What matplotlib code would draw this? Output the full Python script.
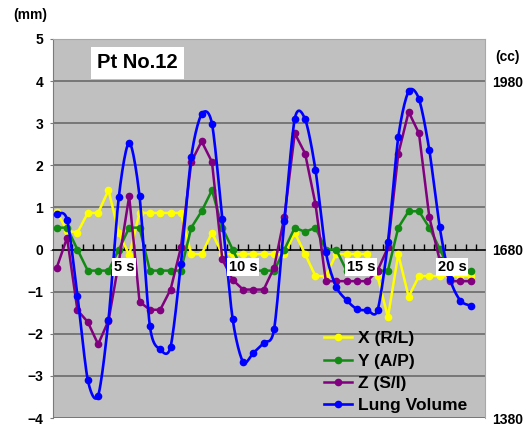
import numpy as np
import matplotlib
matplotlib.use("Agg")
import matplotlib.pyplot as plt
from matplotlib.lines import Line2D

plt.rcParams["font.family"] = ["Liberation Sans", "DejaVu Sans"]

# ── data (frame index, mm displacement, lung volume in cc) ────────────────────
frames = np.arange(41)
x_rl = [0.90, 0.45, 0.40, 0.87, 0.87, 1.41, 0.40, -0.13, 0.87, 0.87, 0.87, 0.87, 0.87,
        -0.11, -0.11, 0.40, -0.11, -0.11, -0.11, -0.11, -0.11, -0.11, -0.11,
        0.40, -0.11, -0.63, -0.63, -0.11, -0.11, -0.11, -0.11,
        -0.63, -1.61, -0.11, -1.12, -0.63, -0.63, -0.63, -0.63, -0.63, -0.63]
y_ap = [0.52, 0.52, 0.0, -0.5, -0.5, -0.5, 0.0, 0.52, 0.52, -0.5, -0.5, -0.5, -0.5,
        0.52, 0.91, 1.41, 0.52, 0.0, -0.5, -0.5, -0.5, -0.5, 0.0,
        0.52, 0.42, 0.52, 0.0, 0.0, -0.5, -0.5, -0.5, -0.5, -0.5,
        0.52, 0.91, 0.91, 0.52, 0.02, -0.5, -0.5, -0.5]
z_si = [-0.43, 0.28, -1.44, -1.72, -2.25, -1.69, -0.3, 1.27, -1.24, -1.43, -1.43, -0.95, 0.05,
        2.08, 2.57, 2.08, -0.23, -0.72, -0.95, -0.95, -0.95, -0.43, 0.78,
        2.76, 2.28, 1.08, -0.75, -0.75, -0.75, -0.75, -0.75, -0.5, 0.05,
        2.27, 3.27, 2.76, 0.77, -0.25, -0.75, -0.75, -0.75]
lung_cc = [1743, 1733, 1598, 1448, 1420, 1555, 1774, 1870, 1775, 1544, 1502, 1507, 1655,
           1845, 1921, 1904, 1734, 1556, 1480, 1496, 1514, 1538, 1730,
           1913, 1912, 1822, 1676, 1614, 1590, 1574, 1572, 1572, 1693,
           1880, 1962, 1948, 1857, 1720, 1628, 1589, 1580]

mm_ticks = list(range(-4, 6))
cc_ticks = [1380, 1680, 1980]
sec_labels = ["5 s", "10 s", "15 s", "20 s"]
sec_frames = [6.5, 18.0, 29.4, 38.2]


def smooth(x, y, n=12, k=0.42):
    # cardinal spline through the points (Excel-style smoothed line)
    pts = np.column_stack([x, y]).astype(float)
    P = np.vstack([pts[0], pts, pts[-1]])
    s = np.linspace(0, 1, n, endpoint=False)[:, None]
    out = []
    for i in range(len(pts) - 1):
        p0, p1, p2, p3 = P[i], P[i + 1], P[i + 2], P[i + 3]
        m1, m2 = k * (p2 - p0), k * (p3 - p1)
        h00 = 2 * s ** 3 - 3 * s ** 2 + 1
        h10 = s ** 3 - 2 * s ** 2 + s
        h01 = -2 * s ** 3 + 3 * s ** 2
        h11 = s ** 3 - s ** 2
        out.append(h00 * p1 + h10 * m1 + h01 * p2 + h11 * m2)
    out.append(pts[-1:])
    c = np.vstack(out)
    return c[:, 0], c[:, 1]


W, H = 529, 432
fig = plt.figure(figsize=(W / 100, H / 100), dpi=100, facecolor="white")
ax = fig.add_axes([53 / W, 14 / H, 432 / W, 379 / H])
ax.set_facecolor("#C0C0C0")
ax.set_xlim(-0.36, 41.38)
ax.set_ylim(-4, 5)

for v in mm_ticks:
    if v != 0:
        ax.axhline(v, color="#6A6A6A", lw=1.2, zorder=0.5)

ax.spines["bottom"].set_position(("data", 0))
ax.spines["bottom"].set_color("black")
ax.spines["bottom"].set_linewidth(1.2)
ax.spines["left"].set_color("#7A7A7A")
ax.spines["top"].set_color("#A8A8A8")
ax.spines["right"].set_color("#A8A8A8")
ax.set_xticks(np.arange(0.5, 41.0, 1.0))
ax.tick_params(axis="x", direction="in", length=4, width=1, color="black",
               labelbottom=False)
ax.set_yticks(mm_ticks)
ax.tick_params(axis="y", length=2.5, pad=4.5, color="#7A7A7A", labelsize=10)
for lab in ax.get_yticklabels():
    lab.set_fontweight("bold")

ax.plot(frames, x_rl, color="#FFFF00", lw=1.8, marker="o", ms=4.5, label="X (R/L)", zorder=3)
ax.plot(frames, y_ap, color="#138A13", lw=1.8, marker="o", ms=4.5, label="Y (A/P)", zorder=3)
ax.plot(frames, z_si, color="#800080", lw=1.8, marker="o", ms=4.5, label="Z (S/I)", zorder=3)

ax2 = ax.twinx()
ax2.set_ylim(1380, 2055)
ax2.set_yticks(cc_ticks)
ax2.tick_params(axis="y", length=0, pad=5, labelsize=10)
for lab in ax2.get_yticklabels():
    lab.set_fontweight("bold")
for sp in ax2.spines.values():
    sp.set_visible(False)

sx, sy = smooth(frames, lung_cc)
ax2.plot(sx, sy, color="#0000FF", lw=1.9, zorder=3)
ax2.plot(frames, lung_cc, ls="none", color="#0000FF", marker="o", ms=4.5, zorder=3)

for s, f in zip(sec_labels, sec_frames):
    ax2.text(f, -0.42, s, transform=ax.transData, ha="center", va="center",
             fontsize=10.5, fontweight="bold", zorder=10,
             bbox=dict(boxstyle="square,pad=0.12", fc="white", ec="none"))

fig.text(137.5 / W, 1 - 63 / H, "Pt No.12", ha="center", va="center", fontsize=14.5,
         fontweight="bold", zorder=10,
         bbox=dict(boxstyle="square,pad=0.3", fc="white", ec="none"))
fig.text(30 / W, 1 - 15 / H, "(mm)", ha="center", va="center", fontsize=10, fontweight="bold")
fig.text(508 / W, 1 - 57 / H, "(cc)", ha="center", va="center", fontsize=10, fontweight="bold")

handles = ax.get_lines()[-3:] + [Line2D([], [], color="#0000FF", lw=1.9, marker="o", ms=4.5)]
labels = ["X (R/L)", "Y (A/P)", "Z (S/I)", "Lung Volume"]
leg = ax2.legend(handles, labels, loc="upper left", bbox_to_anchor=(324 / W, 1 - 331 / H),
                 bbox_transform=fig.transFigure, frameon=False,
                 prop=dict(size=12.5, weight="bold"),
                 handlelength=1.6, handletextpad=0.35, labelspacing=0.42, borderpad=0,
                 borderaxespad=0)
leg.set_zorder(9)

fig.savefig("out.png", dpi=100, facecolor=fig.get_facecolor())
